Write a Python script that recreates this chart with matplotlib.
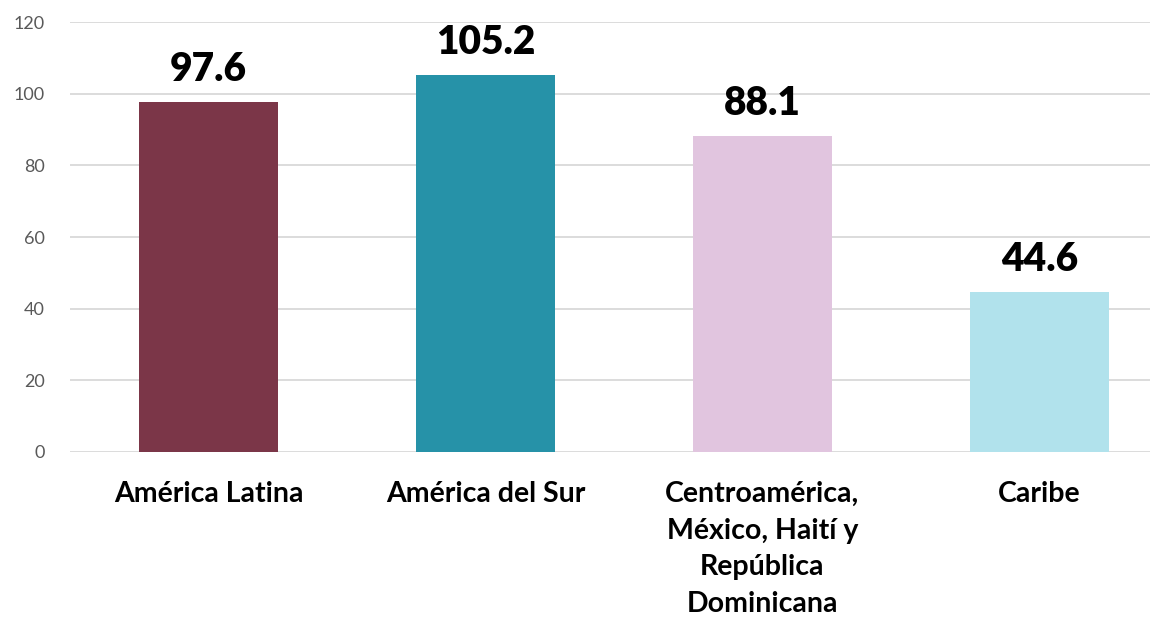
import matplotlib.pyplot as plt

categories = ["América Latina", "América del Sur",
              "Centroamérica,\nMéxico, Haití y\nRepública\nDominicana", "Caribe"]
values = [97.6, 105.2, 88.1, 44.6]
colors = ["#7B3648", "#2692A8", "#E1C5DF", "#B1E2EC"]
yticks = [0, 20, 40, 60, 80, 100, 120]

plt.rcParams['font.family'] = ['Lato', 'DejaVu Sans']

fig = plt.figure(figsize=(11.6, 6.23), dpi=100)
ax = fig.add_axes([0.0603, 0.2745, 0.931, 0.690])

x = range(len(categories))
ax.bar(x, values, width=0.502, color=colors, zorder=3)

for i, v in enumerate(values):
    ax.text(i, v + 4, f"{v:.1f}", ha='center', va='bottom',
            fontsize=28, fontweight='heavy', color='black')

ax.set_xlim(-0.5, 3.399)
ax.set_ylim(0, 120)
ax.set_yticks(yticks)
ax.set_xticks(list(x))
ax.set_xticklabels(categories, fontsize=20.5, fontweight='bold', linespacing=1.5)
ax.tick_params(axis='x', length=0, pad=21)
ax.tick_params(axis='y', length=0, pad=18, labelsize=13, labelcolor='#595959')

ax.yaxis.grid(True, color='#D9D9D9', linewidth=1.3, zorder=0)
for s in ax.spines.values():
    s.set_visible(False)

fig.savefig("out.png", dpi=100)
